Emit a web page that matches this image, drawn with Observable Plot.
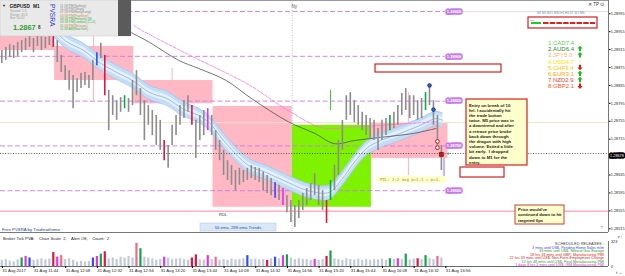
<!DOCTYPE html>
<html><head><meta charset="utf-8">
<script src="https://cdn.jsdelivr.net/npm/d3@7"></script>
<script src="https://cdn.jsdelivr.net/npm/@observablehq/plot@0.6"></script>
<style>
html,body{margin:0;padding:0;background:#fff;}
#wrap{position:relative;width:625px;height:276px;overflow:hidden;font-family:"Liberation Sans",Arial,sans-serif;}
#wrap svg{display:block}
#overlay{position:absolute;left:0;top:0;pointer-events:none}
</style></head><body><div id="wrap"></div>
<script>
// ---------- DATA ----------
const barStep = 3; // minutes per drawn bar (M1 bars grouped by 3)
const barHigh = [
1.28913,1.28920,1.28926,1.28924,1.28931,1.28935,1.28940,1.28944,1.28940,1.28946,
1.28944,1.28942,1.28946,1.28946,1.28935,1.28902,1.28879,1.28868,1.28857,1.28850,
1.28862,1.28864,1.28857,1.28891,1.28908,1.28929,1.28902,1.28824,1.28812,1.28801,
1.28808,1.28812,1.28806,1.28846,1.28868,1.28828,1.28801,1.28790,1.28779,1.28768,
1.28757,1.28712,1.28701,1.28746,1.28768,1.28790,1.28801,1.28812,1.28790,1.28757,
1.28768,1.28779,1.28783,1.28768,1.28734,1.28712,1.28690,1.28667,1.28656,1.28645,
1.28650,1.28645,1.28650,1.28656,1.28652,1.28650,1.28641,1.28634,1.28627,1.28618,
1.28612,1.28605,1.28589,1.28578,1.28567,1.28578,1.28594,1.28605,1.28616,1.28638,
1.28612,1.28600,1.28578,1.28623,1.28656,1.28712,1.28757,1.28812,1.28819,1.28801,
1.28790,1.28775,1.28768,1.28761,1.28757,1.28739,1.28757,1.28761,1.28768,1.28775,
1.28790,1.28817,1.28828,1.28812,1.28812,1.28801,1.28806,1.28819,1.28835,1.28801,
1.28768,1.28701];
const barLow = [
1.28884,1.28891,1.28897,1.28895,1.28900,1.28908,1.28913,1.28920,1.28908,1.28922,
1.28913,1.28917,1.28924,1.28920,1.28886,1.28864,1.28846,1.28824,1.28783,1.28819,
1.28828,1.28835,1.28828,1.28846,1.28879,1.28895,1.28812,1.28734,1.28768,1.28757,
1.28775,1.28783,1.28775,1.28790,1.28812,1.28768,1.28712,1.28746,1.28723,1.28701,
1.28690,1.28667,1.28650,1.28701,1.28723,1.28746,1.28761,1.28775,1.28746,1.28672,
1.28712,1.28723,1.28734,1.28723,1.28690,1.28667,1.28634,1.28623,1.28612,1.28600,
1.28612,1.28618,1.28623,1.28627,1.28623,1.28618,1.28600,1.28594,1.28589,1.28583,
1.28578,1.28567,1.28551,1.28529,1.28518,1.28538,1.28556,1.28567,1.28578,1.28589,
1.28567,1.28556,1.28527,1.28578,1.28600,1.28634,1.28690,1.28757,1.28768,1.28752,
1.28746,1.28734,1.28723,1.28717,1.28712,1.28690,1.28712,1.28723,1.28734,1.28739,
1.28746,1.28768,1.28779,1.28761,1.28768,1.28757,1.28761,1.28779,1.28790,1.28746,
1.28690,1.28645];
const climaxBars = [[39,"red"],[72,"blue"],[78,"red"],[93,"green"],[123,"red"],[144,"red"],[156,"magenta"],
  [207,"blue"],[213,"magenta"],[246,"red"],[249,"green"],[294,"green"],[321,"green"]];

const volume = [
80,90,70,60,85,110,130,110,80,90,
100,85,95,180,120,140,90,100,80,60,
70,60,65,110,130,160,190,100,110,90,
120,110,130,110,300,230,120,110,100,80,
90,120,110,90,95,100,90,80,110,150,
90,85,140,90,120,80,90,80,95,85,
90,100,140,90,95,85,90,80,100,120,
100,140,150,110,90,100,95,90,80,90,
80,90,130,200,100,90,80,100,90,85,
95,80,90,80,90,85,95,80,100,90,
100,90,160,85,95,100,90,140,100,90,
130,110];
const volClimax = [[15,"green"],[18,"magenta"],[21,"blue"],[39,"red"],[42,"magenta"],[45,"pink"],[69,"blue"],[72,"magenta"],
  [75,"green"],[78,"red"],[102,"pink"],[105,"green"],[123,"magenta"],[144,"red"],[147,"red"],[156,"magenta"],[162,"pink"],
  [186,"blue"],[201,"red"],[207,"blue"],[213,"magenta"],[216,"green"],[237,"magenta"],[246,"red"],[249,"green"],
  [294,"green"],[300,"magenta"],[306,"green"],[315,"red"],[321,"green"],[330,"pink"]];
const volMax = 323;

const bandT = [30,48,62,74,87,99,112,125,137,149,157,170,187,200,217,232,248,257,267,277,287,302,317,329,334];
const bandP = [1.28991,1.28935,1.28913,1.28886,1.28864,1.28846,1.28819,1.28806,1.28783,1.28768,1.28752,1.28705,
  1.28656,1.28641,1.28618,1.28600,1.28596,1.28623,1.28663,1.28696,1.28712,1.28728,1.28746,1.28761,1.28757];
const bandHalf = 0.00016;

const ma288T = [98,112,134,149,170,189,217,237,252,267,287,312,329];
const ma288P = [1.28953,1.28931,1.28891,1.28873,1.28846,1.28806,1.28754,1.28728,1.28705,1.28712,1.28719,1.28728,1.28739];
const maPinkT = [100,106,140,174,187,217,242,262,287,329];
const maPinkP = [1.28969,1.28958,1.28906,1.28857,1.28837,1.28779,1.28741,1.28741,1.28746,1.28754];

const boxStart = [-20,40,100,160,220,280];
const boxEnd   = [40,100,160,220,280,338];
const boxHigh  = [1.28951,1.28922,1.28846,1.28788,1.28746,1.28750];
const boxLow   = [1.28913,1.28846,1.28794,1.28563,1.28563,1.28672];
const boxKind  = ["down","down","down","down","up","down"];

const roundLevels = [1.29000,1.28900,1.28800,1.28700,1.28600];
const beigeLevel = 1.28752, pinkLevel = 1.28554, orderLevel = 1.28683, bid = 1.28678;
const nyTime = 220;
const vLineT  = [69.5,129,249,308,335];
const vLineP1 = [1.28944,1.28873,1.28824,1.28819,1.28672];
const vLineP2 = [1.28801,1.28846,1.28779,1.28634,1.28627];
const vLineKind = ["pink","pink","green","pink","purple"];
const tradeT = [324,327,330,330,333];
const tradeP = [1.28835,1.28781,1.28710,1.28696,1.28681];
const tradeKind = ["blue","blue","redOpen","redOpen","redSquare"];

const yTicks = [1.28995,1.28955,1.28915,1.28875,1.28835,1.28795,1.28755,1.28715,1.28675,1.28635,1.28595,1.28555,1.28515];
const xTickTimes = [0,24,48,72,96,120,144,168,192,216,240,264,288,312,336];
const xTickLabels = ["31 Aug 2017","31 Aug 11:44","31 Aug 12:08","31 Aug 12:32","31 Aug 12:56","31 Aug 13:20",
  "31 Aug 13:44","31 Aug 14:08","31 Aug 14:32","31 Aug 14:56","31 Aug 15:20","31 Aug 15:44","31 Aug 16:08",
  "31 Aug 16:32","31 Aug 16:56"];

const csNames = ["1.CAD","2.AUD","3.JPY","4.USD","5.CHF","6.EUR","7.NZD","8.GBP"];
const csValues = [7.4,6.4,5.9,4.7,3.4,3.1,2.9,2.1];
const csTrend = ["flat","up","up","flat","down","up","up","down"];

const sessions = ["11:58 PM(Sydney)","11:58 PM(Tokyo)","07:58 PM(HongKong)","03:58 PM(Frankfurt)",
  "04:58 PM(Helsinki) (B)","03:58 PM(London) (C+1)","05:58 PM(Moscow)","11:58 AM(NewYork)"];
const sessionState = ["closed","closed","closed","other","open","open","other","open"];

const noteLines = ["Entry on break of 10","hrl. I accidentally hit","the trade button","twice. M5 price was in",
  "a downtrend and after","a retrace price broke","back down through","the dragon with high",
  "volume. Exited a little","bit early.  I dropped","down to M1 for the","entry."];
const note2Lines = ["Price would've","continued down to hit","targeted fips"];
const releases = ["3 mins until US$- Pending Home Sales m/m","33 mins until US$- Natural Gas Storage",
  "18 hrs 33 mins until GBP- Manufacturing PMI","22 hrs 33 mins until US$- Non-Farm Employment Change",
  "22 hrs 48 mins until US$- Final Manufacturing PMI","1 days 8 hrs 3 mins until US$- ISM Manufacturing PMI"];
const releaseImpact = ["low","med","high","high","med","other"];

// ---------- BUILD ----------
const xDomain = [-1, 459.6];
const yDomain = [1.285067, 1.290246];
const font = "Liberation Sans, Arial, sans-serif";
const col = {red:"#e3123f", green:"#0fa548", blue:"#2a4dff", magenta:"#df33ee", pink:"#f06a8c"};
const T = barHigh.map((_, i) => i * barStep);
const lastT = T[T.length - 1] + barStep;
const cMap = new Map(climaxBars), vMap = new Map(volClimax);
const bars = T.map((t, i) => ({t, hi: barHigh[i], lo: barLow[i], c: cMap.get(t)}));
const vols = T.map((t, i) => ({t, v: volume[i], c: vMap.get(t)}));
const band = bandT.map((t, i) => ({t, p: bandP[i]}));
const ma288 = ma288T.map((t, i) => ({t, p: ma288P[i]}));
const maPink = maPinkT.map((t, i) => ({t, p: maPinkP[i]}));
const boxes = boxStart.map((s, i) => ({x1: s, x2: boxEnd[i], hi: boxHigh[i], lo: boxLow[i], k: boxKind[i]}));
const vLines = vLineT.map((t, i) => ({t, p1: vLineP1[i], p2: vLineP2[i], k: vLineKind[i]}));
const trades = tradeT.map((t, i) => ({t, p: tradeP[i], k: tradeKind[i]}));
const vCol = {pink:"#ffb0bf", green:"#3ccc30", purple:"#9a6adf"};

const main = Plot.plot({
  width: 625, height: 232, marginTop: 0, marginBottom: 0, marginLeft: 0, marginRight: 17,
  style: {background: "#fff", fontFamily: font, fontSize: "4px", overflow: "visible"},
  x: {domain: xDomain, axis: null},
  y: {domain: yDomain, axis: null},
  marks: [
    Plot.rect(boxes, {x1: "x1", x2: "x2", y1: "lo", y2: "hi", fill: d => d.k === "up" ? "#7ef200" : "#ffb8c4"}),
    Plot.ruleY([beigeLevel], {stroke: "#efe6cc", strokeWidth: 1}),
    Plot.ruleY([pinkLevel], {stroke: "#ffb0ba", strokeWidth: 1.5}),
    Plot.ruleX(vLines, {x: "t", y1: "p1", y2: "p2", stroke: d => vCol[d.k], strokeWidth: 1}),
    Plot.ruleX([nyTime], {stroke: "#b4b4c8", strokeDasharray: "1,1.5", strokeWidth: 0.8}),
    Plot.ruleY(roundLevels, {x1: xDomain[0], x2: lastT, stroke: "#c67be8", strokeWidth: 0.9, strokeDasharray: "5,2.5"}),
    Plot.ruleY([roundLevels[0]], {x1: lastT, x2: xDomain[1], stroke: "#ddd0f2", strokeWidth: 0.8}),
    Plot.areaY(band, {x: "t", y1: d => d.p - bandHalf, y2: d => d.p + bandHalf, curve: "catmull-rom", fill: "#c3ddf6"}),
    Plot.areaY(band, {x: "t", y1: d => d.p - bandHalf * 0.45, y2: d => d.p + bandHalf * 0.45, curve: "catmull-rom", fill: "#e4f0fc"}),
    Plot.line(band, {x: "t", y: d => d.p + bandHalf, curve: "catmull-rom", stroke: "#9cc4ec", strokeWidth: 0.7}),
    Plot.line(band, {x: "t", y: d => d.p - bandHalf, curve: "catmull-rom", stroke: "#9cc4ec", strokeWidth: 0.7}),
    Plot.line(band, {x: "t", y: "p", curve: "catmull-rom", stroke: "#7aa9e0", strokeWidth: 0.7}),
    Plot.line(maPink, {x: "t", y: "p", curve: "catmull-rom", stroke: "#ff6cf0", strokeWidth: 0.8, strokeDasharray: "3,1.5"}),
    Plot.line(ma288, {x: "t", y: "p", curve: "catmull-rom", stroke: "#505050", strokeWidth: 0.8}),
    Plot.ruleY([orderLevel], {stroke: "#333", strokeDasharray: "1,1.6", strokeWidth: 0.8}),
    Plot.ruleX(bars, {x: "t", y1: "lo", y2: "hi", stroke: d => d.c ? col[d.c] : "#8c8c8c", strokeWidth: 1.6}),
    Plot.dot(trades.filter(d => d.k === "blue"), {x: "t", y: "p", r: 1.9, fill: "#2a5bd8", stroke: "#102050", strokeWidth: 0.6}),
    Plot.dot(trades.filter(d => d.k === "redOpen"), {x: "t", y: "p", r: 1.9, fill: "#fff", stroke: "#e01010", strokeWidth: 1}),
    Plot.dot(trades.filter(d => d.k === "redSquare"), {x: "t", y: "p", r: 2.2, symbol: "square", fill: "#e01010", stroke: "#400", strokeWidth: 0.6}),
    Plot.text([orderLevel], {x: lastT, y: d => d, text: () => "+", fill: "#22bb22", fontSize: 6, fontWeight: "bold", dx: 3}),
    Plot.text(roundLevels, {x: lastT, y: d => d, text: d => d.toFixed(5), textAnchor: "start", dx: 1.5,
      fill: "#fff", stroke: "#c57ce8", strokeWidth: 3.4, fontSize: 4, fontWeight: "bold"}),
    Plot.text([nyTime], {x: d => d, frameAnchor: "top", dy: 4, dx: 2, text: () => "Ny", fill: "#556", fontSize: 4.5}),
    Plot.axisY(yTicks, {anchor: "right", tickFormat: d => d.toFixed(5), tickSize: 1.5, tickPadding: 0.8, fontSize: 3.8, fill: "#222"}),
    Plot.text([bid], {y: d => d, frameAnchor: "right", textAnchor: "start", dx: 1.6, text: d => d.toFixed(5),
      fill: "#fff", stroke: "#000", strokeWidth: 3.4, fontSize: 3.8}),
    Plot.ruleY([yDomain[1]], {stroke: "#999", strokeWidth: 1}),
    Plot.ruleY([yDomain[0]], {stroke: "#777", strokeWidth: 1}),
    Plot.ruleX([xDomain[1]], {stroke: "#555", strokeWidth: 0.8})
  ]
});

const vol = Plot.plot({
  width: 625, height: 44, marginTop: 9, marginBottom: 10, marginLeft: 0, marginRight: 17,
  style: {background: "#fff", fontFamily: font, fontSize: "4px", overflow: "visible"},
  x: {domain: xDomain, axis: null},
  y: {domain: [0, volMax], axis: null},
  marks: [
    Plot.ruleX(vols, {x: "t", y1: 0, y2: "v", stroke: d => d.c ? col[d.c] : "#c2cad8", strokeWidth: 2.2}),
    Plot.ruleY([0], {stroke: "#444", strokeWidth: 0.8}),
    Plot.ruleX([xDomain[1]], {y1: 0, y2: volMax, stroke: "#555", strokeWidth: 0.8}),
    Plot.axisY([0, volMax], {anchor: "right", tickSize: 0, tickPadding: 2.5, fontSize: 3.8, fill: "#222"}),
    Plot.axisX(xTickTimes, {anchor: "bottom", tickFormat: d => xTickLabels[xTickTimes.indexOf(d)], textAnchor: "start",
      tickSize: 2, tickPadding: 1, dx: 0.5, fontSize: 4.2, fill: "#222"})
  ]
});

const wrap = document.getElementById("wrap");
wrap.appendChild(main);
wrap.appendChild(vol);

// ---------- OVERLAY PANELS (indicator boxes, notes) ----------
const svg = d3.select(wrap).append("svg").attr("id", "overlay").attr("width", 625).attr("height", 276)
  .attr("font-family", font);
const tx = (x, y, s, o = {}) => {
  const e = svg.append("text").attr("x", x).attr("y", y).text(s)
    .attr("font-size", o.size || 4.3).attr("fill", o.fill || "#222").style("white-space", "pre");
  if (o.weight) e.attr("font-weight", o.weight);
  if (o.anchor) e.attr("text-anchor", o.anchor);
  if (o.family) e.attr("font-family", o.family);
  return e;
};
const rc = (x, y, w, h, fill, stroke, sw = 1) => svg.append("rect").attr("x", x).attr("y", y).attr("width", w)
  .attr("height", h).attr("fill", fill).attr("stroke", stroke || "none").attr("stroke-width", sw);

// info box
rc(0, 0, 131, 36, "#e9e9e9", "#c4c4c4", 0.5);
rc(118, 0, 13, 36, "#5b5b5b");
tx(2, 7, "▼", {size: 4});
tx(9.5, 7.5, "GBPUSD", {size: 4.8, weight: "bold"});
tx(33, 7.5, "M1", {size: 4.8, weight: "bold"});
tx(10, 12, "Spread: 1.6", {size: 3.2, fill: "#9a9a9a"});
tx(10, 15.5, "Range: 45.3", {size: 3.2, fill: "#9a9a9a"});
tx(10, 19, "Bar: 00:02", {size: 3.2, fill: "#9a9a9a"});
tx(13, 29.5, "1.2867", {size: 7.4, weight: "bold", fill: "#2ea02e"});
tx(38, 28.5, "8", {size: 4.6, weight: "bold", fill: "#333"});
svg.append("text").attr("transform", "translate(50,4) rotate(90)").text("PVSRA")
  .attr("font-size", 6.6).attr("fill", "#3344cc");
const sessCol = {closed: "#8a8a8a", open: "#3fae3f", other: "#cc8a4a"};
sessions.forEach((s, i) => tx(60, 6.5 + i * 3.35, s, {size: 3.2, fill: sessCol[sessionState[i]]}));

// top right widgets
tx(588, 6, "✕ TP ⊙", {size: 4.5, fill: "#333"});
tx(537, 13.5, "M1 M5 M15 M30 H1 H4 D1 W1 MN", {size: 3, fill: "#6a8ca8"});
rc(528, 17, 69, 11, "#fff", "#d42020", 1.2);
tx(530, 20.5, "BTF", {size: 2.5, fill: "#888"});
svg.append("line").attr("x1", 531).attr("x2", 541).attr("y1", 23).attr("y2", 23).attr("stroke", "#22cc22").attr("stroke-width", 2);
svg.append("line").attr("x1", 543).attr("x2", 595).attr("y1", 23).attr("y2", 23).attr("stroke", "#e02020")
  .attr("stroke-width", 2).attr("stroke-dasharray", "5.5,1.2");

// currency strength
const csCol = ["#4cd64c", "#2a8a2a", "#ffb070", "#ffdf00", "#ffc400", "#ffaa00", "#ff3a2a", "#ff5a28"];
csNames.forEach((n, i) => {
  const y = 45 + i * 6.2;
  tx(548, y, n + csValues[i].toFixed(1), {size: 6, fill: csCol[i]});
  const ax = 580;
  if (csTrend[i] === "up") {
    svg.append("path").attr("d", `M${ax},${y - 5.5} L${ax - 2.6},${y - 2.6} L${ax - 1},${y - 2.6} L${ax - 1},${y} L${ax + 1},${y} L${ax + 1},${y - 2.6} L${ax + 2.6},${y - 2.6} Z`).attr("fill", "#18c018");
  } else if (csTrend[i] === "down") {
    svg.append("path").attr("d", `M${ax},${y + 0.5} L${ax - 2.6},${y - 2.4} L${ax - 1},${y - 2.4} L${ax - 1},${y - 5} L${ax + 1},${y - 5} L${ax + 1},${y - 2.4} L${ax + 2.6},${y - 2.4} Z`).attr("fill", "#e81818");
  } else {
    tx(ax, y, "☼", {size: 5, fill: "#f0d800", anchor: "middle"});
  }
});

// empty red boxes and notes
rc(375, 64, 126, 8, "#fff", "#d42020", 1.2);
rc(466, 99, 61, 66, "#ffffcc", "#d42020", 1.2);
noteLines.forEach((s, i) => tx(469, 106.5 + i * 5.2, s, {size: 4.3, weight: "bold", fill: "#222"}));
rc(460, 167, 44, 10, "#fff", "#d42020", 1.2);
rc(377, 176, 69, 7, "#ffffc8");
tx(380, 181.3, "PIL: 2:2 avg p=1.1 = p=4,", {size: 4, fill: "#8a8a70", family: "DejaVu Sans Mono"});
rc(515, 205, 49, 19, "#ffffcc", "#c04040", 1);
note2Lines.forEach((s, i) => tx(518, 210.8 + i * 5.4, s, {size: 4.2, weight: "bold", fill: "#222"}));
tx(219, 215.5, "RDL", {size: 4, fill: "#333"});
tx(2, 230.5, "Free PVSRA by Traderathome", {size: 4.3, fill: "#1d3c8f"});
rc(200, 223, 76, 8, "#d9e7f7", "#b0c4e0", 0.5);
tx(238, 229.3, "56 ema, 288 ema Trends", {size: 4.2, fill: "#2f55a8", anchor: "middle"});
tx(602, 229, "↑", {size: 5, fill: "#555", anchor: "middle"});

// volume panel texts
tx(3, 239.5, "Broker Tick PVA:    Chart Scale  2,    Alert Off,    Count:  2", {size: 4.2, fill: "#222"});
tx(604, 245, "SCHEDULED RELEASES :", {size: 4, fill: "#444", anchor: "end"});
const relCol = {low: "#3a3aff", med: "#22a022", high: "#e02020", other: "#d030d0"};
releases.forEach((s, i) => tx(604, 248.8 + i * 3.45, s, {size: 3.7, fill: relCol[releaseImpact[i]], anchor: "end"}));
</script>
</body></html>
